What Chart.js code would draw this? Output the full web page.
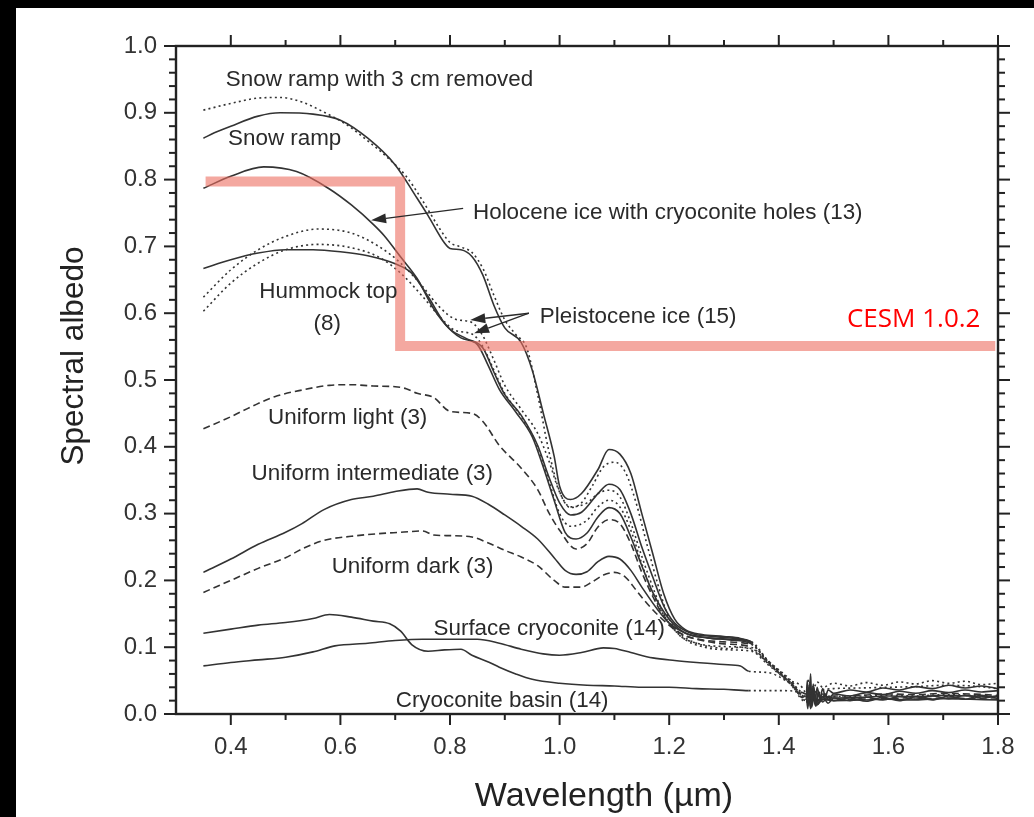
<!DOCTYPE html>
<html><head><meta charset="utf-8">
<script src="https://cdn.jsdelivr.net/npm/chart.js@4/dist/chart.umd.min.js"></script>
<style>html,body{margin:0;padding:0;background:#000;overflow:hidden}canvas{display:block}</style>
</head><body>
<canvas id="c" width="1034" height="817"></canvas>
<script>
// ---------- data (wavelength µm, spectral albedo) ----------
const snowRamp3cm = [[0.35,0.904],[0.40,0.914],[0.45,0.922],[0.49,0.923],[0.53,0.916],[0.57,0.901],[0.61,0.883],[0.65,0.858],[0.69,0.830],[0.72,0.805],[0.745,0.775],[0.765,0.748],[0.78,0.728],[0.80,0.706],[0.82,0.699],[0.84,0.691],[0.86,0.667],[0.88,0.627],[0.90,0.590],[0.92,0.568],[0.94,0.548],[0.96,0.478],[0.98,0.395],[1.00,0.333],[1.02,0.309],[1.04,0.316],[1.06,0.342],[1.08,0.370],[1.10,0.377],[1.12,0.362],[1.14,0.315],[1.16,0.252],[1.18,0.192],[1.20,0.142],[1.22,0.120],[1.25,0.106],[1.28,0.100],[1.31,0.098],[1.33,0.100],[1.35,0.096],[1.38,0.078],[1.42,0.050],[1.45,0.030],[1.455,0.052],[1.46,0.030],[1.47,0.048],[1.48,0.040],[1.50,0.046],[1.53,0.042],[1.56,0.047],[1.59,0.043],[1.62,0.048],[1.65,0.045],[1.68,0.050],[1.71,0.046],[1.74,0.049],[1.77,0.044],[1.80,0.046]];
const snowRamp = [[0.35,0.862],[0.37,0.870],[0.40,0.880],[0.45,0.895],[0.49,0.900],[0.55,0.898],[0.60,0.889],[0.65,0.862],[0.70,0.822],[0.74,0.772],[0.76,0.746],[0.79,0.705],[0.80,0.697],[0.82,0.695],[0.84,0.685],[0.86,0.657],[0.88,0.612],[0.90,0.578],[0.93,0.556],[0.95,0.515],[0.97,0.451],[0.99,0.386],[1.00,0.341],[1.02,0.321],[1.04,0.330],[1.07,0.366],[1.09,0.396],[1.11,0.389],[1.13,0.360],[1.15,0.300],[1.17,0.240],[1.19,0.180],[1.21,0.142],[1.23,0.126],[1.26,0.119],[1.30,0.116],[1.33,0.113],[1.35,0.106],[1.38,0.080],[1.42,0.052],[1.45,0.025],[1.452,0.050],[1.455,0.012],[1.458,0.060],[1.46,0.020],[1.463,0.045],[1.466,0.015],[1.47,0.040],[1.475,0.022],[1.48,0.038],[1.485,0.026],[1.49,0.036],[1.50,0.031],[1.53,0.036],[1.56,0.033],[1.59,0.039],[1.62,0.036],[1.65,0.041],[1.68,0.038],[1.71,0.043],[1.74,0.039],[1.77,0.042],[1.80,0.038]];
const holocene = [[0.35,0.787],[0.40,0.805],[0.46,0.819],[0.52,0.812],[0.58,0.786],[0.62,0.762],[0.66,0.733],[0.68,0.716],[0.71,0.684],[0.74,0.652],[0.77,0.607],[0.80,0.576],[0.83,0.562],[0.86,0.548],[0.88,0.512],[0.90,0.478],[0.93,0.447],[0.96,0.402],[0.98,0.356],[1.00,0.316],[1.02,0.298],[1.04,0.302],[1.07,0.330],[1.09,0.344],[1.11,0.336],[1.13,0.300],[1.15,0.250],[1.17,0.205],[1.19,0.162],[1.21,0.136],[1.24,0.121],[1.28,0.116],[1.32,0.113],[1.35,0.108],[1.38,0.080],[1.42,0.050],[1.45,0.028],[1.453,0.008],[1.456,0.045],[1.46,0.018],[1.464,0.040],[1.468,0.012],[1.472,0.034],[1.478,0.020],[1.485,0.030],[1.49,0.022],[1.50,0.030],[1.53,0.027],[1.56,0.032],[1.59,0.029],[1.62,0.034],[1.65,0.031],[1.68,0.035],[1.71,0.032],[1.74,0.036],[1.77,0.033],[1.80,0.035]];
const hummockTop = [[0.35,0.667],[0.40,0.680],[0.45,0.690],[0.50,0.695],[0.55,0.695],[0.60,0.692],[0.65,0.686],[0.70,0.674],[0.73,0.660],[0.76,0.625],[0.79,0.585],[0.82,0.563],[0.85,0.553],[0.87,0.521],[0.89,0.486],[0.92,0.452],[0.95,0.415],[0.97,0.370],[0.99,0.320],[1.01,0.272],[1.03,0.262],[1.05,0.271],[1.07,0.295],[1.09,0.309],[1.11,0.300],[1.13,0.265],[1.15,0.222],[1.17,0.182],[1.20,0.142],[1.23,0.121],[1.27,0.114],[1.31,0.111],[1.35,0.105],[1.38,0.078],[1.42,0.048],[1.45,0.022],[1.455,0.040],[1.46,0.010],[1.465,0.032],[1.47,0.014],[1.48,0.026],[1.49,0.016],[1.50,0.024],[1.53,0.020],[1.56,0.025],[1.59,0.021],[1.62,0.026],[1.65,0.022],[1.68,0.027],[1.71,0.023],[1.74,0.028],[1.77,0.024],[1.80,0.027]];
const pleistoceneA = [[0.35,0.624],[0.40,0.665],[0.45,0.695],[0.50,0.715],[0.56,0.726],[0.62,0.720],[0.67,0.700],[0.71,0.675],[0.75,0.640],[0.78,0.610],[0.81,0.591],[0.84,0.586],[0.86,0.566],[0.88,0.530],[0.90,0.492],[0.93,0.456],[0.96,0.420],[0.98,0.380],[1.00,0.332],[1.02,0.310],[1.05,0.316],[1.07,0.330],[1.09,0.335],[1.11,0.325],[1.13,0.286],[1.15,0.236],[1.17,0.190],[1.19,0.150],[1.22,0.117],[1.25,0.106],[1.30,0.101],[1.35,0.098],[1.38,0.076],[1.42,0.048],[1.45,0.026],[1.46,0.042],[1.47,0.030],[1.48,0.036],[1.50,0.038],[1.55,0.039],[1.60,0.040],[1.65,0.041],[1.70,0.043],[1.75,0.042],[1.80,0.038]];
const pleistoceneB = [[0.35,0.603],[0.40,0.645],[0.45,0.675],[0.50,0.695],[0.56,0.703],[0.62,0.698],[0.67,0.684],[0.71,0.660],[0.75,0.625],[0.78,0.596],[0.81,0.574],[0.84,0.569],[0.86,0.550],[0.88,0.515],[0.90,0.480],[0.93,0.445],[0.96,0.400],[0.98,0.350],[1.00,0.300],[1.02,0.281],[1.05,0.290],[1.07,0.310],[1.09,0.320],[1.11,0.310],[1.13,0.275],[1.15,0.225],[1.17,0.180],[1.20,0.136],[1.23,0.111],[1.27,0.099],[1.31,0.096],[1.35,0.094],[1.38,0.074],[1.42,0.046],[1.45,0.022],[1.46,0.035],[1.47,0.020],[1.48,0.028],[1.50,0.026],[1.55,0.027],[1.60,0.028],[1.65,0.027],[1.70,0.029],[1.75,0.028],[1.80,0.026]];
const uniformLight = [[0.35,0.427],[0.40,0.445],[0.44,0.461],[0.48,0.475],[0.53,0.485],[0.58,0.492],[0.62,0.493],[0.66,0.491],[0.70,0.490],[0.72,0.487],[0.74,0.480],[0.77,0.474],[0.80,0.453],[0.84,0.450],[0.86,0.438],[0.89,0.402],[0.93,0.368],[0.96,0.336],[0.98,0.302],[1.00,0.275],[1.03,0.247],[1.05,0.255],[1.07,0.280],[1.09,0.291],[1.11,0.285],[1.13,0.255],[1.15,0.212],[1.17,0.176],[1.19,0.146],[1.22,0.121],[1.26,0.111],[1.30,0.108],[1.35,0.104],[1.38,0.078],[1.42,0.048],[1.45,0.024],[1.46,0.038],[1.47,0.018],[1.48,0.030],[1.50,0.027],[1.55,0.028],[1.60,0.030],[1.65,0.029],[1.70,0.031],[1.75,0.030],[1.80,0.028]];
const uniformIntermediate = [[0.35,0.212],[0.40,0.232],[0.45,0.254],[0.50,0.272],[0.53,0.285],[0.57,0.306],[0.62,0.321],[0.66,0.326],[0.70,0.333],[0.74,0.337],[0.76,0.332],[0.80,0.329],[0.84,0.326],[0.87,0.314],[0.90,0.298],[0.93,0.281],[0.96,0.262],[0.99,0.234],[1.01,0.215],[1.03,0.209],[1.05,0.213],[1.07,0.228],[1.09,0.236],[1.11,0.232],[1.13,0.215],[1.15,0.190],[1.18,0.155],[1.20,0.136],[1.23,0.121],[1.27,0.114],[1.31,0.112],[1.35,0.108],[1.38,0.080],[1.42,0.050],[1.45,0.020],[1.454,0.036],[1.458,0.008],[1.462,0.030],[1.467,0.012],[1.472,0.028],[1.48,0.018],[1.49,0.026],[1.50,0.020],[1.53,0.024],[1.56,0.019],[1.59,0.025],[1.62,0.020],[1.65,0.026],[1.68,0.021],[1.71,0.027],[1.74,0.022],[1.77,0.028],[1.80,0.023]];
const uniformDark = [[0.35,0.182],[0.40,0.200],[0.45,0.218],[0.50,0.234],[0.53,0.247],[0.57,0.260],[0.62,0.266],[0.67,0.270],[0.71,0.272],[0.75,0.274],[0.77,0.268],[0.80,0.267],[0.84,0.265],[0.87,0.256],[0.90,0.245],[0.93,0.235],[0.96,0.222],[0.99,0.200],[1.01,0.190],[1.04,0.190],[1.06,0.198],[1.08,0.208],[1.10,0.212],[1.12,0.205],[1.14,0.185],[1.16,0.165],[1.19,0.140],[1.22,0.121],[1.26,0.110],[1.30,0.105],[1.35,0.100],[1.38,0.076],[1.42,0.046],[1.45,0.018],[1.46,0.030],[1.47,0.014],[1.48,0.022],[1.50,0.021],[1.55,0.022],[1.60,0.023],[1.65,0.022],[1.70,0.024],[1.75,0.023],[1.80,0.022]];
const surfaceCryoconite = [[0.35,0.072],[0.40,0.077],[0.45,0.081],[0.50,0.085],[0.55,0.093],[0.59,0.102],[0.65,0.106],[0.70,0.110],[0.75,0.112],[0.80,0.112],[0.85,0.112],[0.89,0.106],[0.93,0.097],[0.97,0.090],[1.00,0.088],[1.04,0.092],[1.08,0.099],[1.10,0.098],[1.13,0.092],[1.17,0.084],[1.21,0.080],[1.25,0.077],[1.30,0.074],[1.33,0.072],[1.345,0.064],[1.38,0.062],[1.42,0.046],[1.45,0.026],[1.46,0.034],[1.47,0.020],[1.48,0.026],[1.50,0.024],[1.55,0.025],[1.60,0.027],[1.65,0.026],[1.70,0.028],[1.75,0.027],[1.80,0.026]];
const cryoconiteBasin = [[0.35,0.121],[0.40,0.127],[0.45,0.133],[0.50,0.137],[0.55,0.143],[0.58,0.149],[0.62,0.145],[0.66,0.139],[0.69,0.135],[0.71,0.124],[0.73,0.104],[0.76,0.094],[0.79,0.096],[0.82,0.097],[0.84,0.088],[0.87,0.078],[0.89,0.070],[0.92,0.060],[0.95,0.052],[1.00,0.046],[1.05,0.043],[1.10,0.042],[1.15,0.040],[1.20,0.040],[1.25,0.038],[1.30,0.037],[1.345,0.035],[1.40,0.035],[1.44,0.033],[1.46,0.024],[1.47,0.016],[1.48,0.022],[1.50,0.020],[1.55,0.021],[1.60,0.022],[1.65,0.021],[1.70,0.023],[1.75,0.022],[1.80,0.021]];
// CESM 1.0.2 albedo step (pink overlay)
const cesmStep = [[0.354,0.797],[0.709,0.797],[0.709,0.551],[1.795,0.551]];

// ---------- axis ticks ----------
const xMajorTicks = [0.4,0.6,0.8,1.0,1.2,1.4,1.6,1.8];
const xMinorTicks = [0.5,0.7,0.9,1.1,1.3,1.5,1.7];
const yMajorTicks = [0.0,0.1,0.2,0.3,0.4,0.5,0.6,0.7,0.8,0.9,1.0];
const yMinorTicks = [0.02,0.04,0.06,0.08,0.12,0.14,0.16,0.18,0.22,0.24,0.26,0.28,0.32,0.34,0.36,0.38,0.42,0.44,0.46,0.48,0.52,0.54,0.56,0.58,0.62,0.64,0.66,0.68,0.72,0.74,0.76,0.78,0.82,0.84,0.86,0.88,0.92,0.94,0.96,0.98];

// ---------- texts ----------
const xTitle = 'Wavelength (µm)';
const yTitle = 'Spectral albedo';
const noteTexts = ['Snow ramp with 3 cm removed','Snow ramp','Holocene ice with cryoconite holes (13)','Hummock top','(8)','Pleistocene ice (15)','Uniform light (3)','Uniform intermediate (3)','Uniform dark (3)','Surface cryoconite (14)','Cryoconite basin (14)'];
const noteX = [0.391,0.395,0.842,0.452,0.576,0.964,0.468,0.438,0.584,0.770,0.701];
const noteY = [0.949,0.861,0.750,0.632,0.584,0.594,0.444,0.360,0.220,0.128,0.019];
const noteAlign = ['left','left','left','left','center','left','left','left','left','left','left'];
const arrowFrom = [[0.824,0.757],[0.944,0.600],[0.944,0.600]];
const arrowTo = [[0.656,0.739],[0.837,0.590],[0.844,0.570]];
const cesmLabel = 'CESM 1.0.2';
const cesmLabelPos = [1.768,0.591];

const FONT = '"Liberation Sans", Arial, Helvetica, sans-serif';
const INK = '#333333';
const pts = a => a.map(p => ({x:p[0], y:p[1]}));
const DOT = [2,3.2], DASH = [7,4], SOLID = [];
function series(label, data, dash){
  return {label, data: pts(data), borderColor: INK, borderWidth: 1.6, borderDash: dash,
    pointRadius: 0, fill: false, cubicInterpolationMode: 'monotone', order: 1,
    segment: {borderDash: ctx => (ctx.p0.parsed.x >= 1.344 && ctx.p1.parsed.x <= 1.451) ? DOT : dash}};
}

const framePlugin = {
  id: 'frame',
  beforeDraw(chart){
    const c = chart.ctx;
    c.save(); c.fillStyle = '#000'; c.fillRect(0,0,chart.width,chart.height);
    c.fillStyle = '#fff'; c.fillRect(16,8,chart.width-16,chart.height-8); c.restore();
  },
  afterDatasetsDraw(chart){
    const c = chart.ctx, xs = chart.scales.x, ys = chart.scales.y, a = chart.chartArea;
    c.save();
    // axes box
    c.strokeStyle = '#222'; c.lineWidth = 2.4;
    c.strokeRect(a.left, a.top, a.right-a.left, a.bottom-a.top);
    c.lineWidth = 2;
    const tick = (x1,y1,x2,y2) => { c.beginPath(); c.moveTo(x1,y1); c.lineTo(x2,y2); c.stroke(); };
    xMajorTicks.forEach(v => { const p = xs.getPixelForValue(v); tick(p,a.bottom,p,a.bottom+11); tick(p,a.top,p,a.top-11); });
    xMinorTicks.forEach(v => { const p = xs.getPixelForValue(v); tick(p,a.bottom,p,a.bottom+6); tick(p,a.top,p,a.top-6); });
    yMajorTicks.forEach(v => { const p = ys.getPixelForValue(v); tick(a.left,p,a.left-12,p); tick(a.right,p,a.right+12,p); });
    yMinorTicks.forEach(v => { const p = ys.getPixelForValue(v); tick(a.left,p,a.left-7,p); tick(a.right,p,a.right+7,p); });
    // axis titles
    c.fillStyle = '#222'; c.textBaseline = 'middle'; c.textAlign = 'center';
    c.font = '34px ' + FONT;
    c.fillText(xTitle, 604, 797);
    c.save(); c.translate(74, 356); c.rotate(-Math.PI/2); c.font = '31.5px ' + FONT; c.fillText(yTitle, 0, 0); c.restore();
    // notes
    c.fillStyle = '#2a2a2a'; c.font = '22.4px ' + FONT; c.textBaseline = 'middle';
    noteTexts.forEach((t,i) => { c.textAlign = noteAlign[i]; c.fillText(t, xs.getPixelForValue(noteX[i]), ys.getPixelForValue(noteY[i])); });
    // arrows
    c.strokeStyle = '#2a2a2a'; c.lineWidth = 1.4;
    arrowFrom.forEach((f,i) => {
      const x1 = xs.getPixelForValue(f[0]), y1 = ys.getPixelForValue(f[1]);
      const x2 = xs.getPixelForValue(arrowTo[i][0]), y2 = ys.getPixelForValue(arrowTo[i][1]);
      const ang = Math.atan2(y2-y1, x2-x1), L = 15, W = 5;
      const bx = x2 - L*Math.cos(ang), by = y2 - L*Math.sin(ang);
      c.beginPath(); c.moveTo(x1,y1); c.lineTo(bx,by); c.stroke();
      c.beginPath(); c.moveTo(x2,y2);
      c.lineTo(bx + W*Math.sin(ang), by - W*Math.cos(ang));
      c.lineTo(bx - W*Math.sin(ang), by + W*Math.cos(ang));
      c.closePath(); c.fill();
    });
    // CESM label
    c.fillStyle = '#ff0000'; c.font = '26px "Open Sans", Lato, sans-serif'; c.textAlign = 'right';
    c.fillText(cesmLabel, xs.getPixelForValue(cesmLabelPos[0]), ys.getPixelForValue(cesmLabelPos[1]));
    c.restore();
  }
};

new Chart(document.getElementById('c'), {
  type: 'line',
  data: { datasets: [
    {label:'CESM 1.0.2', data: pts(cesmStep), borderColor:'rgba(236,110,96,0.6)', borderWidth: 10, pointRadius: 0, tension: 0, order: 0, borderJoinStyle:'miter', borderCapStyle:'butt'},
    series('Snow ramp with 3 cm removed', snowRamp3cm, DOT),
    series('Snow ramp', snowRamp, SOLID),
    series('Holocene ice with cryoconite holes (13)', holocene, SOLID),
    series('Hummock top (8)', hummockTop, SOLID),
    series('Pleistocene ice (15) a', pleistoceneA, DOT),
    series('Pleistocene ice (15) b', pleistoceneB, DOT),
    series('Uniform light (3)', uniformLight, DASH),
    series('Uniform intermediate (3)', uniformIntermediate, SOLID),
    series('Uniform dark (3)', uniformDark, DASH),
    series('Surface cryoconite (14)', surfaceCryoconite, SOLID),
    series('Cryoconite basin (14)', cryoconiteBasin, SOLID)
  ]},
  options: {
    responsive: false, animation: false, devicePixelRatio: 1,
    layout: {padding: {top: 46, right: 36, left: 0, bottom: 0}},
    plugins: {legend: {display: false}, tooltip: {enabled: false}},
    scales: {
      x: {type: 'linear', min: 0.3, max: 1.8,
        grid: {display: false, drawTicks: false}, border: {display: false},
        afterBuildTicks: s => { s.ticks = xMajorTicks.map(v => ({value: v})); },
        afterFit: s => { s.height = 103; },
        ticks: {callback: v => Number(v).toFixed(1), font: {family: FONT, size: 24}, color: INK, padding: 19, maxRotation: 0, autoSkip: false},
        title: {display: false}
      },
      y: {type: 'linear', min: 0, max: 1,
        grid: {display: false, drawTicks: false}, border: {display: false},
        afterBuildTicks: s => { s.ticks = yMajorTicks.map(v => ({value: v})); },
        afterFit: s => { s.width = 176; },
        ticks: {callback: v => Number(v).toFixed(1), font: {family: FONT, size: 24}, color: INK, padding: 19},
        title: {display: false}
      }
    }
  },
  plugins: [framePlugin]
});
</script>
</body></html>
